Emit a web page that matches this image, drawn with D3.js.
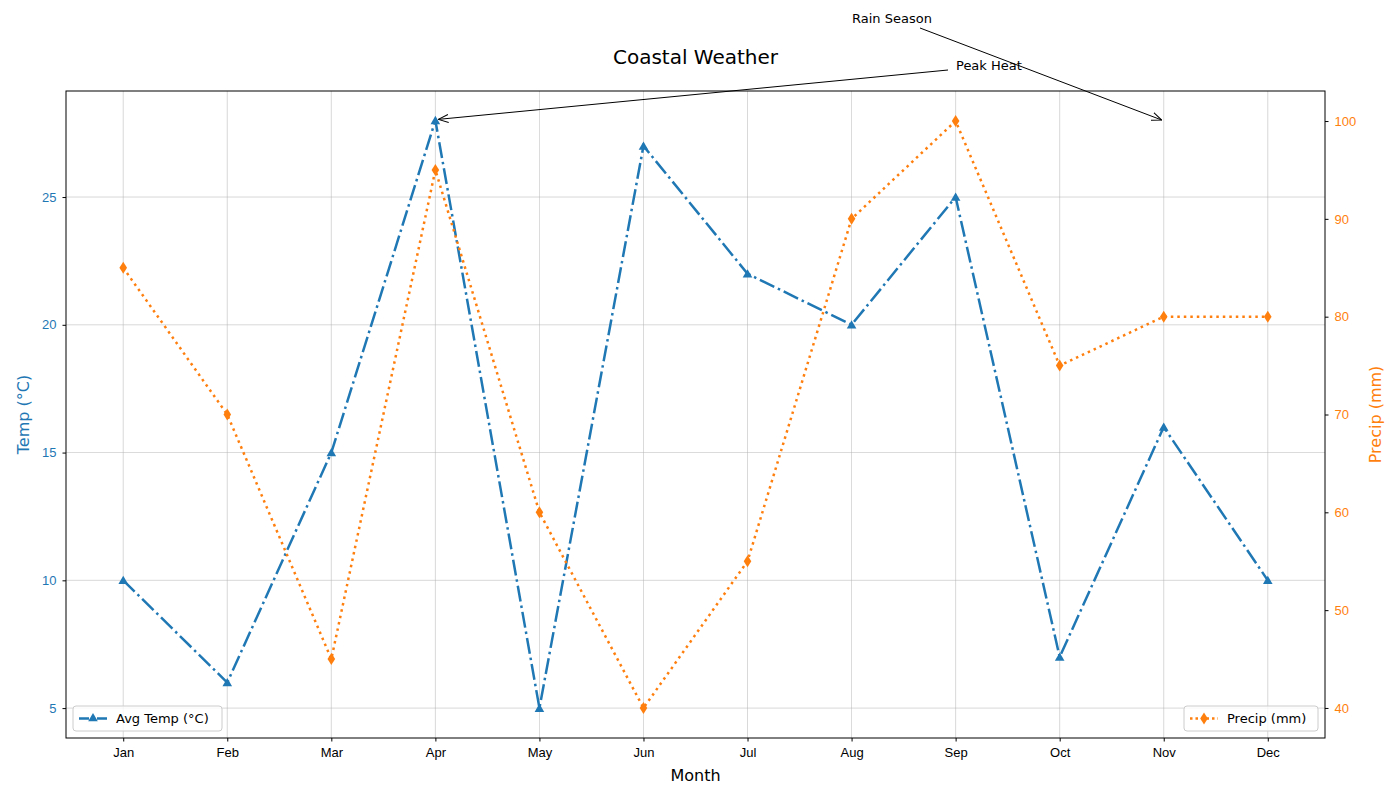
<!DOCTYPE html>
<html>
<head>
<meta charset="utf-8">
<script src="https://d3js.org/d3.v7.min.js"></script>
<style>body{margin:0;background:#fff;font-family:"DejaVu Sans",sans-serif;}</style>
</head>
<body>
<script>
const months = ["Jan","Feb","Mar","Apr","May","Jun","Jul","Aug","Sep","Oct","Nov","Dec"];
const temp = [10,6,15,28,5,27,22,20,25,7,16,10];
const precip = [85,70,45,95,60,40,55,90,100,75,80,80];
const tempTicks = [5,10,15,20,25];
const precipTicks = [40,50,60,70,80,90,100];

const W = 1400, H = 800;
const L = 66, R = 1325, T = 91, B = 738;
const blue = "#1f77b4", orange = "#ff7f0e";

const svg = d3.select("body").append("svg").attr("width", W).attr("height", H)
  .style("font-family", "DejaVu Sans, sans-serif");

const defs = svg.append("defs");
defs.append("marker").attr("id","arr").attr("viewBox","0 0 10 10").attr("refX",10).attr("refY",5)
  .attr("markerWidth",10).attr("markerHeight",10).attr("markerUnits","userSpaceOnUse").attr("orient","auto")
  .append("path").attr("d","M0,1 L10,5 L0,9").attr("fill","none").attr("stroke","#000").attr("stroke-width",1);

const x = d3.scaleLinear().domain([-0.55, 11.55]).range([L, R]);
const yT = d3.scaleLinear().domain([3.83, 29.15]).range([B, T]);
const yP = d3.scaleLinear().domain([36.93, 103.07]).range([B, T]);

// grid
svg.append("g").selectAll("line").data(months).enter().append("line")
  .attr("x1",(d,i)=>x(i)).attr("x2",(d,i)=>x(i)).attr("y1",T).attr("y2",B)
  .attr("stroke","#b0b0b0").attr("stroke-width",0.8).attr("opacity",0.6);
svg.append("g").selectAll("line").data(tempTicks).enter().append("line")
  .attr("x1",L).attr("x2",R).attr("y1",d=>yT(d)).attr("y2",d=>yT(d))
  .attr("stroke","#b0b0b0").attr("stroke-width",0.8).attr("opacity",0.6);

// axes
const xAxis = d3.axisBottom(x).tickValues(d3.range(12)).tickFormat(i=>months[i]).tickSizeOuter(0).tickSize(3.5).tickPadding(6);
const gx = svg.append("g").attr("transform",`translate(0,${B})`).call(xAxis);
gx.selectAll("text").style("font-size","13px").attr("fill","#000");
gx.select(".domain").remove();

const gl = svg.append("g").attr("transform",`translate(${L},0)`)
  .call(d3.axisLeft(yT).tickValues(tempTicks).tickSize(3.5).tickPadding(6).tickSizeOuter(0));
gl.select(".domain").remove();
gl.selectAll("text").style("font-size","13px").attr("fill",blue);

const gr = svg.append("g").attr("transform",`translate(${R},0)`)
  .call(d3.axisRight(yP).tickValues(precipTicks).tickSize(3.5).tickPadding(6).tickSizeOuter(0));
gr.select(".domain").remove();
gr.selectAll("text").style("font-size","13px").attr("fill",orange);

svg.append("rect").attr("x",L).attr("y",T).attr("width",R-L).attr("height",B-T)
  .attr("fill","none").attr("stroke","#000").attr("stroke-width",1);

// lines
const lineT = d3.line().x((d,i)=>x(i)).y(d=>yT(d));
svg.append("path").datum(temp).attr("d",lineT).attr("fill","none").attr("stroke",blue)
  .attr("stroke-width",2.5).attr("stroke-dasharray","16,4,2.5,4");
svg.append("g").selectAll("path").data(temp).enter().append("path")
  .attr("d",d3.symbol().type(d3.symbolTriangle).size(40))
  .attr("transform",(d,i)=>`translate(${x(i)},${yT(d)+1})`).attr("fill",blue);

const lineP = d3.line().x((d,i)=>x(i)).y(d=>yP(d));
svg.append("path").datum(precip).attr("d",lineP).attr("fill","none").attr("stroke",orange)
  .attr("stroke-width",2.5).attr("stroke-dasharray","2.5,4");
svg.append("g").selectAll("path").data(precip).enter().append("path")
  .attr("d","M0,-6 L3.8,0 L0,6 L-3.8,0Z")
  .attr("transform",(d,i)=>`translate(${x(i)},${yP(d)})`).attr("fill",orange);

// labels
svg.append("text").attr("x",(L+R)/2).attr("y",64).attr("text-anchor","middle").style("font-size","20px").text("Coastal Weather");
svg.append("text").attr("x",(L+R)/2).attr("y",781).attr("text-anchor","middle").style("font-size","16px").text("Month");
svg.append("text").attr("transform",`translate(29,${(T+B)/2}) rotate(-90)`).attr("text-anchor","middle")
  .style("font-size","16px").attr("fill",blue).text("Temp (°C)");
svg.append("text").attr("transform",`translate(1381,${(T+B)/2}) rotate(-90)`).attr("text-anchor","middle")
  .style("font-size","16px").attr("fill",orange).text("Precip (mm)");

// annotations
svg.append("line").attr("x1",948).attr("y1",70).attr("x2",x(3)+3).attr("y2",yT(28)-1)
  .attr("stroke","#000").attr("stroke-width",1).attr("marker-end","url(#arr)");
svg.append("text").attr("x",956).attr("y",70).style("font-size","13px").text("Peak Heat");
svg.append("line").attr("x1",920).attr("y1",28).attr("x2",x(10)-2).attr("y2",yP(100)-1)
  .attr("stroke","#000").attr("stroke-width",1).attr("marker-end","url(#arr)");
svg.append("text").attr("x",852).attr("y",23).style("font-size","13px").text("Rain Season");

// legends
function legend(x0, y0, w, color, dash, marker, label){
  const g = svg.append("g");
  g.append("rect").attr("x",x0).attr("y",y0).attr("width",w).attr("height",25).attr("rx",3)
    .attr("fill","#fff").attr("fill-opacity",0.8).attr("stroke","#ccc");
  g.append("line").attr("x1",x0+6).attr("x2",x0+34).attr("y1",y0+12.5).attr("y2",y0+12.5)
    .attr("stroke",color).attr("stroke-width",2.5).attr("stroke-dasharray",dash);
  g.append("path").attr("d",marker).attr("transform",`translate(${x0+20},${y0+12.5})`).attr("fill",color);
  g.append("text").attr("x",x0+43).attr("y",y0+17).style("font-size","13px").text(label);
}
legend(73,706,149,blue,"10,3,2,3",d3.symbol().type(d3.symbolTriangle).size(40)(),"Avg Temp (°C)");
legend(1184,706,134,orange,"2.5,3","M0,-6 L3.8,0 L0,6 L-3.8,0Z","Precip (mm)");
</script>
</body>
</html>
